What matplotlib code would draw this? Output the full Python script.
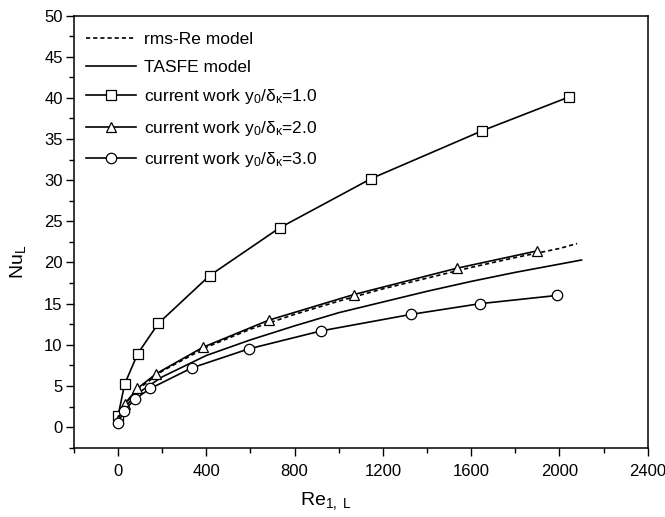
import matplotlib
matplotlib.use('agg')
from matplotlib import pyplot as plt
from matplotlib.ticker import MultipleLocator

plt.rcParams['font.family'] = ['Liberation Sans', 'DejaVu Sans']
plt.rcParams['mathtext.fontset'] = 'custom'
plt.rcParams['mathtext.rm'] = 'Liberation Sans'
plt.rcParams['mathtext.it'] = 'Liberation Sans:italic'

# model curves
rms_re = [0, 10, 30, 50, 100, 200, 400, 600, 800, 1000, 1200, 1400, 1600, 1800, 2000, 2080]
rms_nu = [0.0, 1.5, 2.7, 3.4, 4.8, 6.8, 9.7, 11.9, 13.7, 15.3, 16.8, 18.1, 19.4, 20.6, 21.7, 22.3]

tasfe_re = [0, 10, 30, 50, 100, 200, 400, 600, 800, 1000, 1200, 1400, 1600, 1800, 2000, 2100]
tasfe_nu = [0.0, 1.3, 2.3, 3.0, 4.3, 6.1, 8.7, 10.6, 12.3, 13.9, 15.2, 16.5, 17.7, 18.8, 19.8, 20.3]

# current work
re_1 = [0, 30, 89, 183, 415, 732, 1148, 1650, 2043]
nu_1 = [1.3, 5.2, 8.9, 12.6, 18.4, 24.2, 30.2, 36.0, 40.1]

re_2 = [0, 30, 88, 174, 385, 684, 1068, 1535, 1898]
nu_2 = [0.9, 2.8, 4.7, 6.5, 9.7, 13.0, 16.1, 19.3, 21.4]

re_3 = [0, 26, 76, 147, 335, 592, 922, 1329, 1641, 1990]
nu_3 = [0.5, 1.9, 3.4, 4.7, 7.2, 9.5, 11.7, 13.7, 15.0, 16.0]

fig = plt.figure(figsize=(6.65, 5.17), dpi=100)
ax = fig.add_axes([0.111, 0.134, 0.863, 0.836])

lw = 1.2
ax.plot(rms_re, rms_nu, color='black', lw=lw, ls=(0, (2.5, 1.8)), label='rms-Re model')
ax.plot(tasfe_re, tasfe_nu, color='black', lw=lw, label='TASFE model')
mk = dict(color='black', lw=lw, mfc='white', mec='black', mew=0.9)
ax.plot(re_1, nu_1, marker='s', ms=6.5, label=r'current work y$_\mathregular{0}$/δ$_\mathregular{κ}$=1.0', **mk)
ax.plot(re_2, nu_2, marker='^', ms=7.5, label=r'current work y$_\mathregular{0}$/δ$_\mathregular{κ}$=2.0', **mk)
ax.plot(re_3, nu_3, marker='o', ms=7.5, label=r'current work y$_\mathregular{0}$/δ$_\mathregular{κ}$=3.0', **mk)

ax.set_xlim(-200, 2400)
ax.set_ylim(-2.5, 50)
ax.xaxis.set_major_locator(MultipleLocator(400))
ax.xaxis.set_minor_locator(MultipleLocator(200))
ax.yaxis.set_major_locator(MultipleLocator(5))
ax.yaxis.set_minor_locator(MultipleLocator(2.5))
ax.tick_params(which='both', direction='out', width=1.0, labelsize=12)
ax.tick_params(which='major', length=6)
ax.tick_params(which='minor', length=3.5)
ax.tick_params(axis='x', pad=6)
ax.tick_params(axis='y', pad=2)
for sp in ax.spines.values():
    sp.set_linewidth(1.1)

ax.set_xlabel(r'Re$_\mathregular{1,\ L}$', fontsize=14)
ax.set_ylabel(r'Nu$_\mathregular{L}$', fontsize=14)
ax.xaxis.set_label_coords(0.44, -0.098)
ax.yaxis.set_label_coords(-0.08, 0.43)

ax.legend(loc='upper left', frameon=False, fontsize=12.5, handlelength=2.9,
          handletextpad=0.45, labelspacing=0.72, borderaxespad=0.3,
          bbox_to_anchor=(0.0, 0.99))

fig.savefig('out.png', dpi=100)
